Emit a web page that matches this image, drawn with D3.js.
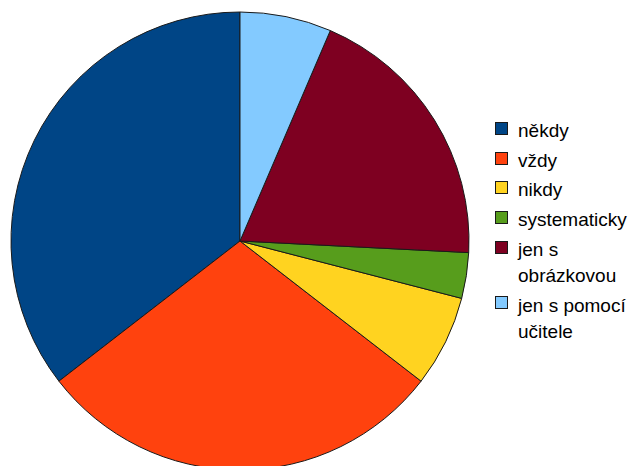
<!DOCTYPE html>
<html><head><meta charset="utf-8">
<script src="https://cdn.jsdelivr.net/npm/d3@7"></script>
<style>html,body{margin:0;padding:0;background:#fff;}</style>
</head><body>
<svg id="c" width="641" height="466"></svg>
<script>
const categories = ["někdy", "vždy", "nikdy", "systematicky", "jen s obrázkovou", "jen s pomocí učitele"];
const legendLines = [["někdy"], ["vždy"], ["nikdy"], ["systematicky"], ["jen s", "obrázkovou"], ["jen s pomocí", "učitele"]];
const values = [11, 9, 2, 1, 6, 2];
const colors = ["#004586", "#ff420e", "#ffd320", "#579d1c", "#7e0021", "#83caff"];

const svg = d3.select("#c");
const cx = 240, cy = 241, r = 229;
const pie = d3.pie().sort(null).value(d => d).startAngle(0).endAngle(-2 * Math.PI);
const arc = d3.arc().innerRadius(0).outerRadius(r);
const g = svg.append("g").attr("transform", `translate(${cx},${cy})`);
g.selectAll("path").data(pie(values)).join("path")
  .attr("d", arc)
  .attr("fill", (d, i) => colors[i])
  .attr("stroke", "#1a1a1a")
  .attr("stroke-width", 1);

const lg = svg.append("g").attr("font-family", "'Liberation Sans', Arial, sans-serif").attr("font-size", 19).attr("fill", "#000");
let base = 137;
const itemGap = 29.7, lineGap = 26;
legendLines.forEach((lines, i) => {
  lg.append("rect").attr("x", 495.5).attr("y", Math.round(base - 15) + 0.5).attr("width", 12).attr("height", 12)
    .attr("fill", colors[i]).attr("stroke", "#1a1a1a").attr("stroke-width", 1);
  lines.forEach((t, j) => {
    lg.append("text").attr("x", 518).attr("y", base + j * lineGap).text(t);
  });
  base += itemGap + (lines.length - 1) * lineGap;
});
</script>
</body></html>
